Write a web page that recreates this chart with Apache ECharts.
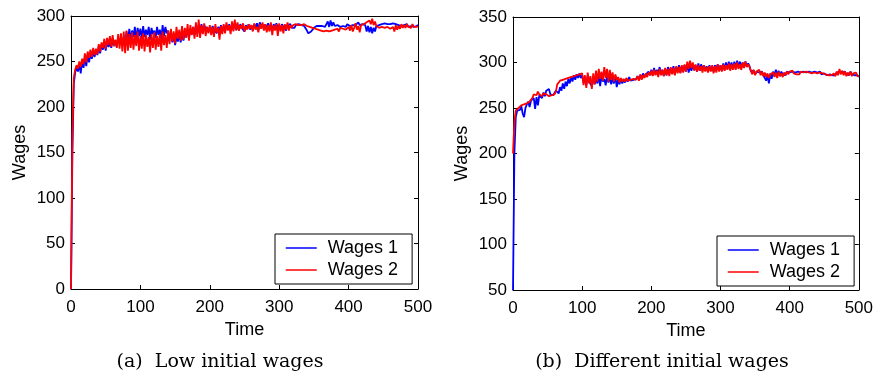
<!DOCTYPE html>
<html>
<head>
<meta charset="utf-8">
<script src="https://cdn.jsdelivr.net/npm/echarts@6/dist/echarts.min.js"></script>
<style>
html,body{margin:0;padding:0;background:#fff;}
#chart{width:876px;height:372px;}
</style>
</head>
<body>
<div id="chart"></div>
<script>
// time steps (every 2 time units, 0..500)
const timeStep = 2;
const captions = ['(a)  Low initial wages', '(b)  Different initial wages'];
const seriesNames = ['Wages 1', 'Wages 2'];

// Panel (a): Low initial wages
const lowWages1 = [
  0, 150, 225, 238, 244, 239, 248, 237, 251, 243,
  254, 245, 257, 249, 259, 253, 261, 255, 263, 257,
  267, 259, 269, 263, 271, 262, 273, 266, 270, 265,
  275, 267, 273, 266, 276, 270, 272, 268, 277, 269,
  283, 271, 286, 274, 284, 277, 288, 273, 287, 278,
  286, 275, 289, 277, 285, 279, 288, 274, 287, 280,
  284, 276, 288, 279, 285, 274, 290, 278, 288, 281,
  284, 275, 281, 271, 279, 268, 277, 272, 280, 271,
  281, 273, 283, 277, 285, 276, 286, 280, 288, 279,
  290, 281, 289, 284, 291, 282, 290, 285, 288, 283,
  288, 282, 289, 285, 287, 281, 288, 284, 290, 283,
  289, 283, 290, 286, 291, 284, 289, 285, 292, 285,
  290, 284, 291, 287, 289, 283, 290, 286, 291, 285,
  290, 284, 291, 287, 292, 285, 293, 288, 291, 285,
  291, 285, 292, 288, 290, 284, 291, 287, 292, 286,
  290, 285, 291, 288, 289, 284, 290, 288, 291, 287,
  289, 287, 290, 288, 291, 289, 290, 288, 289, 287,
  284, 281, 279, 283, 285, 287, 288, 289, 290, 289,
  288, 289, 287, 288, 290, 294, 288, 295, 289, 293,
  289, 288, 290, 289, 288, 290, 289, 290, 288, 291,
  290, 289, 291, 290, 292, 290, 291, 293, 290, 292,
  291, 289, 290, 283, 289, 282, 288, 281, 287, 283,
  289, 287, 290, 289, 291, 290, 292, 290, 291, 292,
  291, 290, 292, 290, 291, 289, 290, 291, 289, 290,
  290, 289, 291, 288, 290, 289, 291, 288, 290, 289,
  290
];
const lowWages2 = [
  0, 170, 232, 241, 246, 242, 250, 244, 253, 247,
  259, 249, 261, 254, 263, 255, 265, 257, 264, 258,
  269, 261, 271, 265, 275, 264, 276, 268, 278, 266,
  279, 267, 274, 265, 280, 264, 281, 261, 283, 259,
  284, 262, 280, 265, 282, 263, 279, 267, 283, 262,
  278, 264, 281, 261, 279, 266, 277, 260, 280, 265,
  282, 263, 278, 266, 280, 262, 283, 268, 279, 265,
  284, 269, 286, 272, 283, 270, 288, 275, 285, 273,
  289, 274, 287, 276, 291, 273, 290, 279, 288, 275,
  293, 277, 296, 276, 290, 280, 292, 278, 288, 281,
  290, 279, 288, 277, 291, 282, 287, 274, 289, 280,
  291, 281, 293, 284, 290, 280, 294, 283, 296, 284,
  293, 284, 290, 286, 292, 283, 289, 285, 291, 286,
  290, 283, 292, 285, 288, 282, 291, 286, 293, 284,
  291, 282, 290, 283, 293, 279, 290, 284, 291, 278,
  292, 283, 290, 281, 291, 285, 293, 284, 290, 287,
  290, 288, 291, 289, 290, 291, 290, 292, 291, 290,
  289, 287, 288, 286, 287, 285, 286, 284, 285, 283,
  284, 282, 283, 285, 284, 286, 283, 282, 284, 283,
  285, 284, 286, 283, 287, 285, 286, 288, 285, 287,
  288, 284, 290, 283, 287, 292, 285, 289, 282, 290,
  288, 291, 290, 293, 292, 295, 291, 297, 290, 294,
  289, 291, 287, 289, 288, 290, 287, 289, 288, 290,
  286, 284, 288, 283, 290, 285, 289, 286, 291, 287,
  290, 287, 291, 288, 290, 287, 291, 288, 290, 288,
  289
];

// Panel (b): Different initial wages
const diffWages1 = [
  50, 200, 240, 247, 249, 248, 252, 244, 240, 250,
  254, 257, 251, 258, 256, 261, 249, 262, 253, 264,
  265, 261, 267, 263, 269, 268, 271, 265, 263, 264,
  266, 269, 268, 266, 273, 269, 277, 271, 279, 274,
  282, 277, 284, 279, 286, 281, 287, 283, 288, 283,
  286, 278, 284, 275, 285, 279, 281, 274, 284, 276,
  282, 277, 285, 274, 286, 279, 282, 275, 285, 278,
  284, 276, 283, 277, 285, 273, 281, 276, 282, 277,
  281, 278, 282, 279, 284, 280, 282, 281, 283, 282,
  285, 281, 286, 283, 288, 284, 287, 286, 290, 286,
  292, 286, 294, 287, 292, 288, 295, 287, 292, 285,
  293, 286, 295, 288, 294, 289, 296, 287, 295, 290,
  297, 289, 296, 290, 297, 290, 298, 289, 297, 291,
  298, 292, 297, 290, 299, 291, 298, 292, 297, 291,
  296, 290, 297, 291, 296, 290, 297, 292, 298, 291,
  297, 291, 299, 292, 300, 293, 301, 294, 300, 293,
  301, 294, 302, 295, 301, 294, 300, 295, 301, 296,
  299, 296, 290, 288, 291, 287, 290, 288, 289, 287,
  290, 286, 288, 280, 286, 277, 288, 282, 290, 285,
  292, 286, 291, 285, 290, 287, 289, 286, 290, 288,
  289, 287, 290, 288, 289, 287, 290, 288, 289, 287,
  290, 288, 289, 287, 290, 288, 289, 288, 290, 288,
  289, 288, 290, 287, 289, 288, 287, 286, 288, 287,
  287, 286, 288, 286, 289, 287, 290, 288, 289, 287,
  290, 287, 289, 286, 290, 287, 289, 286, 288, 286,
  284
];
const diffWages2 = [
  200, 235, 247, 249, 250, 251, 253, 251, 254, 252,
  255, 253, 257, 256, 261, 265, 267, 264, 268, 265,
  265, 263, 266, 264, 265, 264, 263, 262, 264, 263,
  265, 268, 276, 278, 280, 279, 281, 280, 282, 281,
  283, 282, 284, 283, 285, 284, 286, 285, 287, 286,
  288, 275, 286, 272, 289, 277, 285, 271, 288, 276,
  291, 279, 293, 282, 290, 280, 295, 283, 293, 279,
  292, 281, 289, 279, 287, 281, 284, 278, 283, 279,
  282, 279, 283, 280, 282, 281, 283, 282, 284, 281,
  285, 280, 287, 281, 286, 283, 288, 284, 289, 286,
  291, 285, 292, 286, 291, 284, 293, 286, 292, 285,
  294, 286, 293, 285, 295, 287, 294, 286, 296, 288,
  295, 288, 297, 289, 298, 290, 301, 293, 302, 294,
  300, 291, 298, 290, 297, 291, 296, 289, 297, 290,
  295, 289, 296, 290, 297, 288, 296, 289, 298, 290,
  297, 290, 298, 291, 297, 292, 299, 291, 298, 292,
  299, 292, 300, 293, 298, 292, 300, 294, 301, 295,
  298, 295, 291, 287, 292, 286, 290, 288, 292, 286,
  290, 285, 289, 284, 288, 283, 287, 285, 289, 284,
  289, 283, 290, 285, 288, 284, 289, 286, 290, 287,
  290, 288, 291, 288, 290, 287, 289, 287, 290, 288,
  289, 287, 290, 288, 289, 287, 288, 286, 289, 287,
  288, 287, 289, 287, 288, 286, 287, 285, 286, 285,
  286, 284, 288, 285, 290, 286, 293, 287, 291, 286,
  290, 285, 289, 286, 290, 285, 288, 286, 289, 285,
  285
];

const sansFont = '"Liberation Sans", Arial, Helvetica, sans-serif';
const serifFont = '"DejaVu Serif", "Liberation Serif", serif';

function pairs(values) {
  return values.map((v, i) => [i * timeStep, v]);
}

const grids = [
  { left: 71, top: 16, width: 347, height: 273 },
  { left: 513, top: 17, width: 346, height: 273 }
];
const yRanges = [[0, 300], [50, 350]];

const xAxes = [];
const yAxes = [];
grids.forEach((g, gi) => {
  xAxes.push({
    type: 'value', gridIndex: gi, min: 0, max: 500, interval: 100, position: 'bottom',
    name: 'Time', nameLocation: 'middle', nameGap: 29,
    nameTextStyle: { fontFamily: sansFont, fontSize: 18, color: '#000' },
    axisLine: { show: true, onZero: false, lineStyle: { color: '#000', width: 1 } },
    axisTick: { show: true, inside: true, length: 4, lineStyle: { color: '#000' } },
    axisLabel: { fontFamily: sansFont, fontSize: 17, color: '#000', margin: 10 },
    splitLine: { show: false }
  });
  xAxes.push({
    type: 'value', gridIndex: gi, min: 0, max: 500, interval: 100, position: 'top',
    axisLine: { show: true, onZero: false, lineStyle: { color: '#000', width: 1 } },
    axisTick: { show: true, inside: true, length: 4, lineStyle: { color: '#000' } },
    axisLabel: { show: false }, splitLine: { show: false }
  });
  yAxes.push({
    type: 'value', gridIndex: gi, min: yRanges[gi][0], max: yRanges[gi][1], interval: 50, position: 'left',
    name: 'Wages', nameLocation: 'middle', nameGap: 42,
    nameTextStyle: { fontFamily: sansFont, fontSize: 18, color: '#000' },
    axisLine: { show: true, onZero: false, lineStyle: { color: '#000', width: 1 } },
    axisTick: { show: true, inside: true, length: 4, lineStyle: { color: '#000' } },
    axisLabel: { fontFamily: sansFont, fontSize: 17, color: '#000', margin: 6 },
    splitLine: { show: false }
  });
  yAxes.push({
    type: 'value', gridIndex: gi, min: yRanges[gi][0], max: yRanges[gi][1], interval: 50, position: 'right',
    axisLine: { show: true, onZero: false, lineStyle: { color: '#000', width: 1 } },
    axisTick: { show: true, inside: true, length: 4, lineStyle: { color: '#000' } },
    axisLabel: { show: false }, splitLine: { show: false }
  });
});

const panelData = [[lowWages1, lowWages2], [diffWages1, diffWages2]];
const colors = ['#0000ff', '#ff0000'];
const series = [];
panelData.forEach((pd, gi) => {
  pd.forEach((vals, si) => {
    series.push({
      type: 'line', name: seriesNames[si], xAxisIndex: gi * 2, yAxisIndex: gi * 2,
      data: pairs(vals), symbol: 'none', showSymbol: false, animation: false,
      lineStyle: { color: colors[si], width: 1.8 }, itemStyle: { color: colors[si] },
      z: 2 + si
    });
  });
});

const legendBase = {
  orient: 'vertical', data: seriesNames,
  backgroundColor: '#fff', borderColor: '#000', borderWidth: 1,
  padding: [5, 14, 5, 10], itemGap: 4, itemWidth: 31, itemHeight: 16,
  itemStyle: { opacity: 0 },
  lineStyle: { width: 1.5 },
  textStyle: { fontFamily: sansFont, fontSize: 18, lineHeight: 16, color: '#000', padding: [0, 0, 0, 6] },
  selectedMode: false
};

const option = {
  backgroundColor: '#fff',
  animation: false,
  grid: grids,
  xAxis: xAxes,
  yAxis: yAxes,
  series: series,
  legend: [
    Object.assign({}, legendBase, { left: 275, top: 234 }),
    Object.assign({}, legendBase, { left: 717, top: 236 })
  ],
  title: [
    { text: captions[0], left: 215, top: 348, textAlign: 'center',
      textStyle: { fontFamily: serifFont, fontSize: 19, fontWeight: 'normal', color: '#000' } },
    { text: captions[1], left: 657, top: 348, textAlign: 'center',
      textStyle: { fontFamily: serifFont, fontSize: 19, fontWeight: 'normal', color: '#000' } }
  ]
};

const chart = echarts.init(document.getElementById('chart'), null, { renderer: 'canvas' });
chart.setOption(option);
</script>
</body>
</html>
